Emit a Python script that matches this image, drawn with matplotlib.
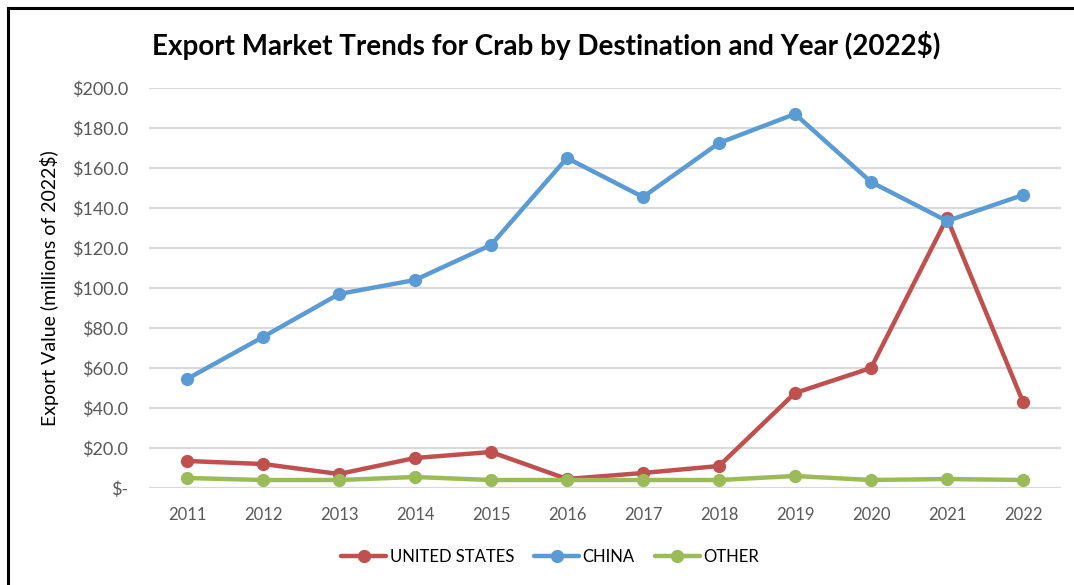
import matplotlib.pyplot as plt
from matplotlib.lines import Line2D

years = ['2011', '2012', '2013', '2014', '2015', '2016',
         '2017', '2018', '2019', '2020', '2021', '2022']
united_states = [13.5, 12.0, 7.0, 15.0, 18.0, 4.5, 7.5, 11.0, 47.5, 60.0, 135.0, 43.0]
china = [54.5, 75.5, 97.0, 104.0, 121.5, 165.0, 145.5, 172.5, 187.0, 153.0, 133.5, 146.5]
other = [5.0, 4.0, 4.0, 5.5, 4.0, 4.0, 4.0, 4.0, 6.0, 4.0, 4.5, 4.0]

plt.rcParams['font.family'] = ['Lato', 'DejaVu Sans']

fig = plt.figure(figsize=(10.74, 5.85), dpi=100)
ax = fig.add_axes([149 / 1074, 1 - 488 / 585, 912 / 1074, 400 / 585])

x = range(len(years))
style = dict(linewidth=3.2, marker='o', markersize=8.5, solid_capstyle='round')
ax.plot(x, united_states, color='#C0504D', label='UNITED STATES', **style)
ax.plot(x, china, color='#5B9BD5', label='CHINA', **style)
ax.plot(x, other, color='#9BBB59', label='OTHER', **style)

ax.set_xlim(-0.5, 11.5)
ax.set_ylim(0, 200)
ax.set_yticks(range(0, 201, 20))
ax.set_yticklabels(['$-'] + ['$%.1f' % v for v in range(20, 201, 20)])
ax.set_xticks(list(x))
ax.set_xticklabels(years)
ax.grid(axis='y', color='#D9D9D9', linewidth=1.6)
ax.set_axisbelow(True)
for s in ax.spines.values():
    s.set_visible(False)
ax.tick_params(length=0, labelsize=12, colors='#595959')
ax.tick_params(axis='y', labelsize=13, pad=15)
ax.tick_params(axis='x', pad=14)
ax.set_ylabel('Export Value (millions of 2022$)', fontsize=14, color='black', labelpad=9)

fig.text(546 / 1074, 1 - 46 / 585, 'Export Market Trends for Crab by Destination and Year (2022$)',
         ha='center', va='center', fontsize=20, fontweight='bold')

fig.legend(*ax.get_legend_handles_labels(), loc='center',
           bbox_to_anchor=(550 / 1074, 1 - 557 / 585), ncol=3, frameon=False,
           fontsize=12, handlelength=2.7, columnspacing=1.2, handletextpad=0.2)

# chart border (left and top only visible)
fig.add_artist(Line2D([8 / 1074, 8 / 1074], [0, 1 - 8 / 585], color='black', linewidth=2.2))
fig.add_artist(Line2D([8 / 1074, 1], [1 - 8 / 585, 1 - 8 / 585], color='black', linewidth=2.2))

fig.savefig('out.png', dpi=100)
